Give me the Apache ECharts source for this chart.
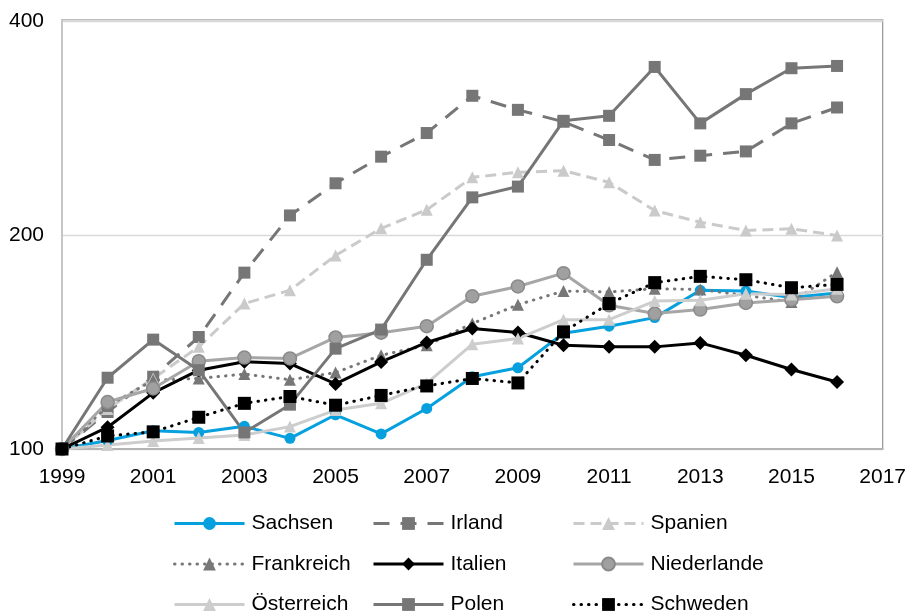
<!DOCTYPE html>
<html>
<head>
<meta charset="utf-8">
<script src="https://cdn.jsdelivr.net/npm/echarts@6/dist/echarts.min.js"></script>
<style>
html, body { margin: 0; padding: 0; background: #fff; }
#chart { width: 909px; height: 614px; }
</style>
</head>
<body>
<div id="chart"></div>
<script>
// Jahre (x-Achse), Index 1999 = 100
var years = ['1999', '2000', '2001', '2002', '2003', '2004', '2005', '2006', '2007',
	'2008', '2009', '2010', '2011', '2012', '2013', '2014', '2015', '2016', '2017'];
var yTicks = [100, 200, 400];

var sachsen = [100, 102.8, 106.1, 105.5, 107.6, 103.5, 111.7, 105.0, 114.0, 126.3, 130.0, 145.4, 148.7, 152.9, 167.0, 166.6, 163.1, 165.5];
var irland = [100, 112.7, 126.3, 143.6, 176.8, 212.7, 236.0, 257.2, 277.6, 313.1, 299.2, 287.9, 271.4, 254.5, 258.0, 261.6, 286.4, 301.5];
var spanien = [100, 113.8, 125.6, 139.1, 160.0, 167.0, 186.9, 204.0, 216.6, 240.6, 244.5, 245.8, 236.7, 216.1, 208.1, 202.6, 203.7, 199.4];
var frankreich = [100, 114.9, 124.9, 125.6, 127.4, 125.1, 128.0, 135.4, 139.8, 150.0, 159.4, 166.6, 166.1, 167.9, 167.4, 164.3, 160.8, 177.1];
var italien = [100, 107.3, 119.9, 129.0, 132.6, 131.8, 123.4, 132.5, 141.1, 147.6, 145.7, 139.8, 139.1, 139.1, 140.9, 135.4, 129.3, 124.2];
var niederlande = [100, 116.4, 121.6, 132.8, 134.4, 134.0, 143.4, 145.6, 148.7, 163.8, 169.1, 176.5, 159.1, 154.9, 156.9, 160.3, 162.0, 163.8];
var oesterreich = [100, 101.3, 102.6, 103.6, 104.6, 107.5, 113.4, 115.9, 123.6, 140.3, 142.9, 151.9, 151.9, 161.3, 161.7, 165.2, 164.8, 167.9];
var polen = [100, 125.9, 142.4, 129.0, 105.5, 115.4, 138.3, 147.1, 184.3, 225.5, 233.5, 288.8, 293.5, 343.7, 286.4, 314.8, 342.3, 344.8];
var schweden = [100, 104.3, 105.7, 110.8, 115.9, 118.5, 115.2, 118.9, 122.6, 125.6, 123.8, 146.0, 160.0, 171.2, 174.7, 172.8, 168.4, 170.2];

var FONT = '"Liberation Sans", Arial, sans-serif';
var DOTS = [0.5, 7];

function line(name, data, color, dash, symbol, size, extra) {
	var s = {
		name: name,
		type: 'line',
		data: data,
		symbol: symbol,
		symbolSize: size,
		showSymbol: true,
		lineStyle: { color: color, width: 3, type: dash, cap: dash === DOTS ? 'round' : 'butt' },
		itemStyle: { color: color, borderWidth: 0 }
	};
	if (extra) s.itemStyle = extra;
	return s;
}

var series = [
	line('Sachsen', sachsen, '#05a0dd', 'solid', 'circle', 11),
	line('Irland', irland, '#767676', [16, 11], 'rect', 12),
	line('Spanien', spanien, '#cacaca', [11, 6], 'triangle', 12),
	line('Frankreich', frankreich, '#777777', DOTS, 'triangle', 12),
	line('Italien', italien, '#000000', 'solid', 'diamond', 14),
	line('Niederlande', niederlande, '#a6a6a6', 'solid', 'circle', 13,
		{ color: '#a0a0a0', borderColor: '#8a8a8a', borderWidth: 1.5 }),
	line('Österreich', oesterreich, '#cdcdcd', 'solid', 'triangle', 12),
	line('Polen', polen, '#767676', 'solid', 'rect', 12),
	line('Schweden', schweden, '#000000', DOTS, 'rect', 13)
];

// Legende: 3 Spalten x 3 Zeilen
var legendOrder = [['Sachsen', 'Irland', 'Spanien'],
	['Frankreich', 'Italien', 'Niederlande'],
	['Österreich', 'Polen', 'Schweden']];
var colLeft = [173, 372, 572];
var rowTop = [513, 553.5, 594];
var legends = [];
for (var r = 0; r < legendOrder.length; r++) {
	for (var c = 0; c < legendOrder[r].length; c++) {
		legends.push({
			data: [legendOrder[r][c]],
			left: colLeft[c],
			top: rowTop[r],
			padding: 0,
			itemWidth: 70,
			itemHeight: 16,
			lineStyle: { width: 3 },
			selectedMode: false,
			textStyle: { color: '#000', fontSize: 21, fontFamily: FONT, padding: [0, 0, 0, 2] }
		});
	}
}

var chart = echarts.init(document.getElementById('chart'), null, { renderer: 'canvas' });
chart.setOption({
	animation: false,
	backgroundColor: '#fff',
	grid: {
		left: 62,
		right: 26,
		top: 20,
		bottom: 165,
		show: true,
		borderColor: '#9a9a9a',
		borderWidth: 1.3
	},
	legend: legends,
	xAxis: {
		type: 'category',
		data: years,
		boundaryGap: false,
		axisLine: { lineStyle: { color: '#b3b3b3', width: 2 } },
		axisTick: { show: false },
		axisLabel: { interval: 1, color: '#000', fontSize: 21, fontFamily: FONT, margin: 18 },
		splitLine: { show: false }
	},
	yAxis: {
		type: 'log',
		logBase: 2,
		min: yTicks[0],
		max: yTicks[yTicks.length - 1],
		interval: 1,
		axisLine: { show: true, lineStyle: { color: '#c6c6c6', width: 2 } },
		axisTick: { show: false },
		axisLabel: {
			color: '#000', fontSize: 21, fontFamily: FONT, margin: 18,
			// Log-Ticks kommen leicht gerundet an, auf nächsten Tickwert setzen
			formatter: function (v) {
				var best = yTicks[0];
				for (var i = 0; i < yTicks.length; i++) {
					if (Math.abs(yTicks[i] - v) < Math.abs(best - v)) best = yTicks[i];
				}
				return best;
			}
		},
		splitLine: { show: true, lineStyle: { color: '#d9d9d9', width: 1.3 } }
	},
	series: series
});
</script>
</body>
</html>
